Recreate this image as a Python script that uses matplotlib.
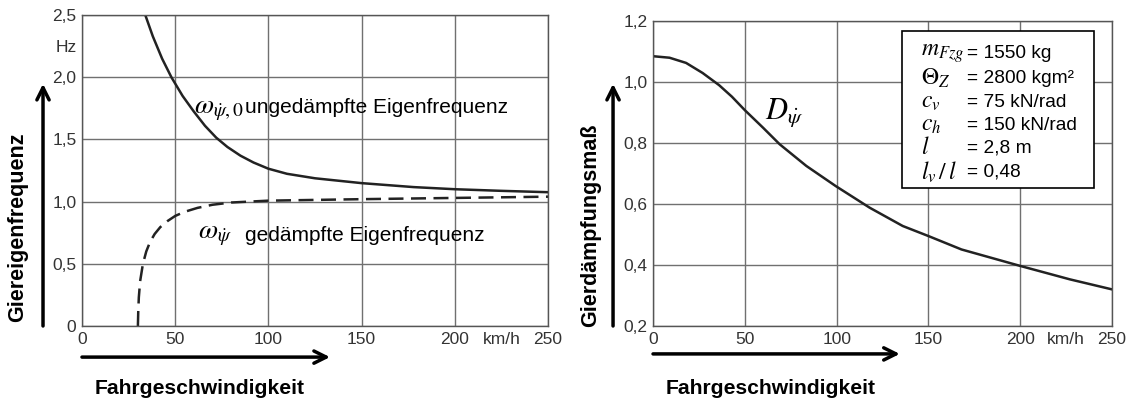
import numpy as np
import matplotlib
matplotlib.use('Agg')
import matplotlib.pyplot as plt
from matplotlib.patches import Rectangle, FancyArrowPatch

plt.rcParams['font.family'] = ['Liberation Sans', 'DejaVu Sans']
plt.rcParams['mathtext.fontset'] = 'stix'

# left chart: yaw eigenfrequency (Hz) over speed (km/h)
v_undamped = [34, 38, 43, 48, 54, 60, 66, 72, 78, 85, 92, 100, 110, 125, 150, 178, 200, 225, 250]
f_undamped = [2.5, 2.33, 2.15, 2.0, 1.85, 1.725, 1.61, 1.515, 1.44, 1.37, 1.315, 1.265, 1.224, 1.188, 1.149, 1.117, 1.1, 1.087, 1.076]
v_damped = [30, 30.2, 30.5, 31.2, 32.7, 34.5, 36.5, 39, 42, 46, 50, 55, 62, 70, 80, 100, 125, 150, 200, 250]
f_damped = [0, 0.12, 0.23, 0.36, 0.5, 0.6, 0.675, 0.74, 0.795, 0.845, 0.885, 0.918, 0.95, 0.975, 0.993, 1.008, 1.014, 1.02, 1.03, 1.04]

# right chart: yaw damping ratio
v_D = [0, 9, 18, 27, 36, 43, 50, 60, 69, 83.5, 99.5, 118, 136, 150, 168, 200, 227, 250]
D = [1.085, 1.08, 1.063, 1.03, 0.99, 0.952, 0.908, 0.85, 0.796, 0.725, 0.659, 0.588, 0.528, 0.495, 0.451, 0.397, 0.353, 0.32]

x_ticks = [0, 50, 100, 150, 200, 250]
x_labels = ['0', '50', '100', '150', '200', '250']
y1_ticks = [0, 0.5, 1.0, 1.5, 2.0, 2.5]
y1_labels = ['0', '0,5', '1,0', '1,5', '2,0', '2,5']
y2_ticks = [0.2, 0.4, 0.6, 0.8, 1.0, 1.2]
y2_labels = ['0,2', '0,4', '0,6', '0,8', '1,0', '1,2']

params_sym = [r'$m_{Fzg}$', r'$\Theta_Z$', r'$c_v$', r'$c_h$', r'$l$', r'$l_v\,/\,l$']
params_val = ['= 1550 kg', '= 2800 kgm²', '= 75 kN/rad', '= 150 kN/rad', '= 2,8 m', '= 0,48']

fig = plt.figure(figsize=(11.29, 3.99), dpi=100)
ax1 = fig.add_axes([0.0726, 0.183, 0.4128, 0.779])
ax2 = fig.add_axes([0.5784, 0.183, 0.4066, 0.764])

tick_col = '#333333'
for ax in (ax1, ax2):
    ax.set_xlim(0, 250)
    ax.set_xticks(x_ticks)
    ax.set_xticklabels(x_labels)
    ax.set_xticks([225], minor=True)
    ax.set_xticklabels(['km/h'], minor=True)
    ax.grid(True, which='major', color='#707070', lw=1.0)
    ax.tick_params(which='both', length=0, labelsize=12.5, colors=tick_col, pad=4)
    for s in ax.spines.values():
        s.set_color('#555555')
        s.set_linewidth(1.0)

ax1.set_ylim(0, 2.5)
ax1.set_yticks(y1_ticks)
ax1.set_yticklabels(y1_labels)
ax1.set_yticks([2.25], minor=True)
ax1.set_yticklabels(['Hz'], minor=True)
ax1.plot(v_undamped, f_undamped, color='#222222', lw=1.8)
ax1.plot(v_damped, f_damped, color='#222222', lw=1.8, dashes=(6, 3))
ax1.text(60, 1.74, r'$\omega_{\dot{\psi},0}$', fontsize=20, va='center')
ax1.text(87.5, 1.76, 'ungedämpfte Eigenfrequenz', fontsize=15, va='center')
ax1.text(62.5, 0.73, r'$\omega_{\dot{\psi}}$', fontsize=20, va='center')
ax1.text(87.5, 0.73, 'gedämpfte Eigenfrequenz', fontsize=15, va='center')

ax2.set_ylim(0.2, 1.2)
ax2.set_yticks(y2_ticks)
ax2.set_yticklabels(y2_labels)
ax2.plot(v_D, D, color='#222222', lw=1.8)
ax2.text(61, 0.9, r'$D_{\dot{\psi}}$', fontsize=22, va='center')

# parameter box
ax2.add_patch(Rectangle((0.5425, 0.452), 0.4185, 0.515, transform=ax2.transAxes,
                        facecolor='white', edgecolor='black', lw=1.2, zorder=3))
line_y = [0.895, 0.813, 0.734, 0.659, 0.584, 0.505]
for yy, s, t in zip(line_y, params_sym, params_val):
    ax2.text(0.584, yy, s, transform=ax2.transAxes, fontsize=17, va='center', zorder=4)
    ax2.text(0.684, yy, t, transform=ax2.transAxes, fontsize=13.8, va='center', zorder=4)

# axis titles with arrows
fig.text(0.016, 0.431, 'Giereigenfrequenz', rotation=90, fontsize=15.5, fontweight='bold',
         ha='center', va='center')
fig.text(0.177, 0.027, 'Fahrgeschwindigkeit', fontsize=15.2, fontweight='bold', ha='center', va='center')
fig.text(0.523, 0.436, 'Gierdämpfungsmaß', rotation=90, fontsize=15.5, fontweight='bold',
         ha='center', va='center')
fig.text(0.683, 0.027, 'Fahrgeschwindigkeit', fontsize=15.2, fontweight='bold', ha='center', va='center')

arrow = dict(arrowstyle='->', lw=2.5, color='black', mutation_scale=22, shrinkA=0, shrinkB=0)
fig.add_artist(FancyArrowPatch((0.0381, 0.183), (0.0381, 0.79), transform=fig.transFigure, **arrow))
fig.add_artist(FancyArrowPatch((0.0726, 0.105), (0.2923, 0.105), transform=fig.transFigure, **arrow))
fig.add_artist(FancyArrowPatch((0.543, 0.183), (0.543, 0.79), transform=fig.transFigure, **arrow))
fig.add_artist(FancyArrowPatch((0.5784, 0.113), (0.797, 0.113), transform=fig.transFigure, **arrow))

fig.savefig('out.png', dpi=100)
